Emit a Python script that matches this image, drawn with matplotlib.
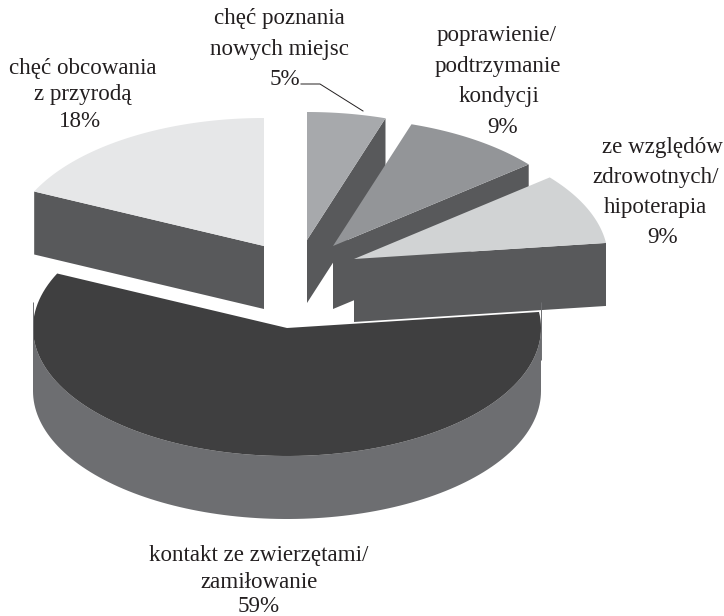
import numpy as np
import matplotlib
matplotlib.use("Agg")
import matplotlib.pyplot as plt

# data, clockwise from twelve o'clock
categories = ["chęć poznania nowych miejsc", "poprawienie/podtrzymanie kondycji",
              "ze względów zdrowotnych/hipoterapia", "kontakt ze zwierzętami/zamiłowanie",
              "chęć obcowania z przyrodą"]
values = [5, 9, 9, 59, 18]

# styles / layout
centres = [(307, 240), (333, 246), (354, 259), (287, 328), (264, 246)]
top_colours = ["#a7a9ac", "#939598", "#d1d3d4", "#3f3f40", "#e6e7e8"]
face_colour = "#58595b"
wall_colour = "#6d6e71"
RX, RY, DEPTH = 254, 128, 63
WALL_RISE = 26
FS = 16.6

labels = [
    (["chęć poznania", "nowych miejsc", "5%"], [(279, 24), (280, 55), (285, 85)]),
    (["poprawienie/", "podtrzymanie", "kondycji", "9%"], [(497, 41), (498, 72), (499, 102), (503, 133)]),
    (["ze względów", "zdrowotnych/", "hipoterapia", "9%"], [(662, 153), (656, 183), (655, 213), (663, 243)]),
    (["kontakt ze zwierzętami/", "zamiłowanie", "59%"], [(259, 561), (259, 588), (259, 612)]),
    (["chęć obcowania", "z przyrodą", "18%"], [(83, 74), (83, 100), (80, 127)]),
]

fig = plt.figure(figsize=(7.24, 6.16), dpi=100)
ax = fig.add_axes([0, 0, 1, 1])
ax.set_xlim(0, 724)
ax.set_ylim(616, 0)
ax.axis("off")


def rim(c, a0, a1):
    t = np.radians(np.linspace(a0, a1, 120))
    return c[0] + RX * np.sin(t), c[1] - RY * np.cos(t)


def radial_face(c, a):
    x, y = rim(c, a, a)
    ax.fill([c[0], x[0], x[0], c[0]], [c[1], y[0], y[0] + DEPTH, c[1] + DEPTH],
            color=face_colour, lw=0)


bounds = np.concatenate([[0], np.cumsum(values)]) * 360 / sum(values)
order = [4, 0, 1, 2, 3]  # back to front
for i in order:
    a0, a1 = bounds[i], bounds[i + 1]
    c = centres[i]
    if i == 3:
        # outer wall of the big slice, with the thin upward slivers at both sides
        x, y = rim(c, 90, 270)
        ax.fill(np.r_[x, x[::-1]], np.r_[y, y[::-1] + DEPTH], color=wall_colour, lw=0)
        for side in (-1, 1):
            ax.plot([c[0] + side * RX] * 2, [c[1] - WALL_RISE, c[1] + DEPTH / 2],
                    color=wall_colour, lw=0.7, solid_capstyle="butt")
    elif i == 4:
        radial_face(c, a0)
    else:
        radial_face(c, a1)
    x, y = rim(c, a0, a1)
    ax.fill(np.r_[c[0], x], np.r_[c[1], y], color=top_colours[i], lw=0)

# leader line of the 5% label
ax.plot([301, 320, 363], [84, 84, 111], color="#231f20", lw=0.7)

for lines, pos in labels:
    for s, (px, py) in zip(lines, pos):
        ax.text(px, py, s, ha="center", va="baseline", fontsize=FS,
                family="Liberation Serif", color="#231f20")

fig.savefig("out.png", dpi=100)
